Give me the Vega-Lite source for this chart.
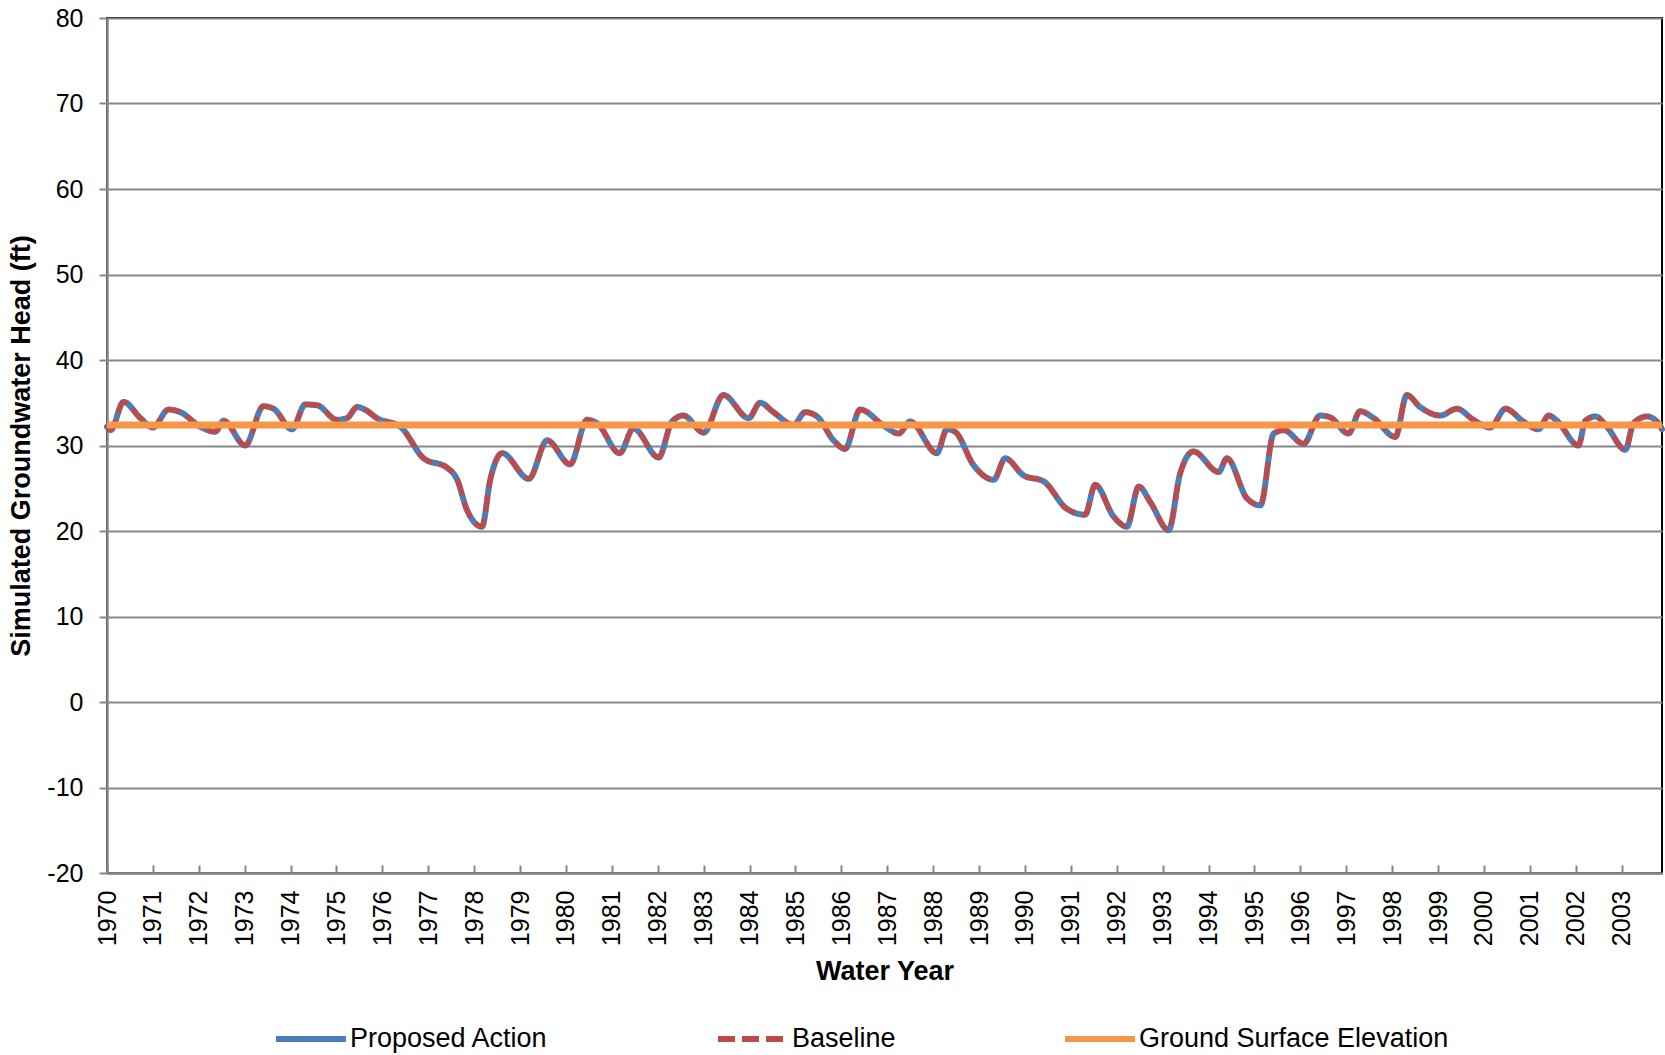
{
  "$schema": "https://vega.github.io/schema/vega-lite/v6.json",
  "autosize": {"type": "none"},
  "width": 1555,
  "height": 855,
  "padding": {"left": 107, "top": 18, "right": 3, "bottom": 182},
  "background": "white",
  "config": {
    "font": "Liberation Sans",
    "view": {"stroke": "black", "strokeWidth": 2},
    "axis": {
      "labelFont": "Liberation Sans",
      "labelFontSize": 25,
      "labelColor": "black",
      "titleFont": "Liberation Sans",
      "titleFontSize": 27,
      "titleFontWeight": "bold",
      "titleColor": "black",
      "domainColor": "#878787",
      "domainWidth": 2.5,
      "tickColor": "#878787",
      "tickWidth": 2,
      "gridColor": "#878787",
      "gridWidth": 2,
      "gridOpacity": 1
    },
    "legend": {
      "labelFont": "Liberation Sans",
      "labelFontSize": 27,
      "labelColor": "black",
      "labelLimit": 0
    }
  },
  "datasets": {
    "head": [
      {"t": 1970.00, "Proposed Action": 32.2, "Baseline": 32.2},
      {"t": 1970.08, "Proposed Action": 31.8, "Baseline": 31.8},
      {"t": 1970.36, "Proposed Action": 35.1, "Baseline": 35.1},
      {"t": 1970.73, "Proposed Action": 33.2, "Baseline": 33.2},
      {"t": 1971.00, "Proposed Action": 32.1, "Baseline": 32.1},
      {"t": 1971.34, "Proposed Action": 34.2, "Baseline": 34.2},
      {"t": 1971.60, "Proposed Action": 33.9, "Baseline": 33.9},
      {"t": 1972.03, "Proposed Action": 32.2, "Baseline": 32.2},
      {"t": 1972.36, "Proposed Action": 31.6, "Baseline": 31.6},
      {"t": 1972.54, "Proposed Action": 32.9, "Baseline": 32.9},
      {"t": 1973.01, "Proposed Action": 30.0, "Baseline": 30.0},
      {"t": 1973.41, "Proposed Action": 34.6, "Baseline": 34.6},
      {"t": 1973.63, "Proposed Action": 34.3, "Baseline": 34.3},
      {"t": 1974.03, "Proposed Action": 31.9, "Baseline": 31.9},
      {"t": 1974.32, "Proposed Action": 34.8, "Baseline": 34.8},
      {"t": 1974.58, "Proposed Action": 34.7, "Baseline": 34.7},
      {"t": 1975.01, "Proposed Action": 33.0, "Baseline": 33.0},
      {"t": 1975.23, "Proposed Action": 33.2, "Baseline": 33.2},
      {"t": 1975.45, "Proposed Action": 34.5, "Baseline": 34.5},
      {"t": 1975.62, "Proposed Action": 34.2, "Baseline": 34.2},
      {"t": 1975.88, "Proposed Action": 33.2, "Baseline": 33.2},
      {"t": 1976.39, "Proposed Action": 32.2, "Baseline": 32.2},
      {"t": 1976.90, "Proposed Action": 28.5, "Baseline": 28.5},
      {"t": 1977.41, "Proposed Action": 27.4, "Baseline": 27.4},
      {"t": 1977.63, "Proposed Action": 26.0, "Baseline": 26.0},
      {"t": 1977.84, "Proposed Action": 22.5, "Baseline": 22.5},
      {"t": 1978.17, "Proposed Action": 20.5, "Baseline": 20.5},
      {"t": 1978.35, "Proposed Action": 26.0, "Baseline": 26.0},
      {"t": 1978.61, "Proposed Action": 29.1, "Baseline": 29.1},
      {"t": 1979.19, "Proposed Action": 26.1, "Baseline": 26.1},
      {"t": 1979.59, "Proposed Action": 30.6, "Baseline": 30.6},
      {"t": 1980.09, "Proposed Action": 27.8, "Baseline": 27.8},
      {"t": 1980.46, "Proposed Action": 33.0, "Baseline": 33.0},
      {"t": 1980.68, "Proposed Action": 32.6, "Baseline": 32.6},
      {"t": 1981.17, "Proposed Action": 29.1, "Baseline": 29.1},
      {"t": 1981.47, "Proposed Action": 32.0, "Baseline": 32.0},
      {"t": 1982.02, "Proposed Action": 28.6, "Baseline": 28.6},
      {"t": 1982.31, "Proposed Action": 32.8, "Baseline": 32.8},
      {"t": 1982.56, "Proposed Action": 33.5, "Baseline": 33.5},
      {"t": 1983.00, "Proposed Action": 31.5, "Baseline": 31.5},
      {"t": 1983.43, "Proposed Action": 35.9, "Baseline": 35.9},
      {"t": 1983.98, "Proposed Action": 33.2, "Baseline": 33.2},
      {"t": 1984.23, "Proposed Action": 35.0, "Baseline": 35.0},
      {"t": 1984.52, "Proposed Action": 33.9, "Baseline": 33.9},
      {"t": 1984.96, "Proposed Action": 32.4, "Baseline": 32.4},
      {"t": 1985.21, "Proposed Action": 33.9, "Baseline": 33.9},
      {"t": 1985.47, "Proposed Action": 33.4, "Baseline": 33.4},
      {"t": 1985.83, "Proposed Action": 30.6, "Baseline": 30.6},
      {"t": 1986.08, "Proposed Action": 29.6, "Baseline": 29.6},
      {"t": 1986.41, "Proposed Action": 34.2, "Baseline": 34.2},
      {"t": 1986.95, "Proposed Action": 32.2, "Baseline": 32.2},
      {"t": 1987.25, "Proposed Action": 31.4, "Baseline": 31.4},
      {"t": 1987.50, "Proposed Action": 32.8, "Baseline": 32.8},
      {"t": 1988.08, "Proposed Action": 29.1, "Baseline": 29.1},
      {"t": 1988.30, "Proposed Action": 31.9, "Baseline": 31.9},
      {"t": 1988.48, "Proposed Action": 31.6, "Baseline": 31.6},
      {"t": 1988.88, "Proposed Action": 27.7, "Baseline": 27.7},
      {"t": 1989.32, "Proposed Action": 26.0, "Baseline": 26.0},
      {"t": 1989.57, "Proposed Action": 28.5, "Baseline": 28.5},
      {"t": 1989.97, "Proposed Action": 26.5, "Baseline": 26.5},
      {"t": 1990.41, "Proposed Action": 25.8, "Baseline": 25.8},
      {"t": 1990.91, "Proposed Action": 22.6, "Baseline": 22.6},
      {"t": 1991.31, "Proposed Action": 21.9, "Baseline": 21.9},
      {"t": 1991.53, "Proposed Action": 25.4, "Baseline": 25.4},
      {"t": 1991.93, "Proposed Action": 21.7, "Baseline": 21.7},
      {"t": 1992.22, "Proposed Action": 20.5, "Baseline": 20.5},
      {"t": 1992.48, "Proposed Action": 25.2, "Baseline": 25.2},
      {"t": 1992.73, "Proposed Action": 23.4, "Baseline": 23.4},
      {"t": 1993.13, "Proposed Action": 20.1, "Baseline": 20.1},
      {"t": 1993.38, "Proposed Action": 26.7, "Baseline": 26.7},
      {"t": 1993.67, "Proposed Action": 29.3, "Baseline": 29.3},
      {"t": 1994.22, "Proposed Action": 26.9, "Baseline": 26.9},
      {"t": 1994.40, "Proposed Action": 28.5, "Baseline": 28.5},
      {"t": 1994.84, "Proposed Action": 23.8, "Baseline": 23.8},
      {"t": 1995.13, "Proposed Action": 23.0, "Baseline": 23.0},
      {"t": 1995.42, "Proposed Action": 31.4, "Baseline": 31.4},
      {"t": 1995.64, "Proposed Action": 31.8, "Baseline": 31.8},
      {"t": 1996.07, "Proposed Action": 30.2, "Baseline": 30.2},
      {"t": 1996.43, "Proposed Action": 33.5, "Baseline": 33.5},
      {"t": 1996.65, "Proposed Action": 33.3, "Baseline": 33.3},
      {"t": 1997.05, "Proposed Action": 31.4, "Baseline": 31.4},
      {"t": 1997.30, "Proposed Action": 34.0, "Baseline": 34.0},
      {"t": 1997.60, "Proposed Action": 33.2, "Baseline": 33.2},
      {"t": 1998.07, "Proposed Action": 31.0, "Baseline": 31.0},
      {"t": 1998.32, "Proposed Action": 35.9, "Baseline": 35.9},
      {"t": 1998.61, "Proposed Action": 34.5, "Baseline": 34.5},
      {"t": 1999.05, "Proposed Action": 33.5, "Baseline": 33.5},
      {"t": 1999.41, "Proposed Action": 34.3, "Baseline": 34.3},
      {"t": 1999.77, "Proposed Action": 33.0, "Baseline": 33.0},
      {"t": 2000.14, "Proposed Action": 32.1, "Baseline": 32.1},
      {"t": 2000.47, "Proposed Action": 34.3, "Baseline": 34.3},
      {"t": 2000.86, "Proposed Action": 32.8, "Baseline": 32.8},
      {"t": 2001.19, "Proposed Action": 31.9, "Baseline": 31.9},
      {"t": 2001.41, "Proposed Action": 33.5, "Baseline": 33.5},
      {"t": 2001.59, "Proposed Action": 32.9, "Baseline": 32.9},
      {"t": 2002.06, "Proposed Action": 30.0, "Baseline": 30.0},
      {"t": 2002.21, "Proposed Action": 32.9, "Baseline": 32.9},
      {"t": 2002.43, "Proposed Action": 33.4, "Baseline": 33.4},
      {"t": 2002.68, "Proposed Action": 32.2, "Baseline": 32.2},
      {"t": 2003.08, "Proposed Action": 29.5, "Baseline": 29.5},
      {"t": 2003.26, "Proposed Action": 32.6, "Baseline": 32.6},
      {"t": 2003.55, "Proposed Action": 33.4, "Baseline": 33.4},
      {"t": 2003.77, "Proposed Action": 32.8, "Baseline": 32.8},
      {"t": 2003.88, "Proposed Action": 31.9, "Baseline": 31.9}
    ],
    "ground": [
      {"t": 1970.00, "Ground Surface Elevation": 32.4},
      {"t": 2003.88, "Ground Surface Elevation": 32.4}
    ]
  },
  "encoding": {
    "x": {
      "field": "t",
      "type": "quantitative",
      "scale": {"domain": [1970, 2003.88], "nice": false, "zero": false},
      "axis": {
        "title": "Water Year",
        "values": [1970,1971,1972,1973,1974,1975,1976,1977,1978,1979,1980,1981,1982,1983,1984,1985,1986,1987,1988,1989,1990,1991,1992,1993,1994,1995,1996,1997,1998,1999,2000,2001,2002,2003],
        "format": "d",
        "labelAngle": -90,
        "labelAlign": "right",
        "labelBaseline": "middle",
        "tickSize": -8,
        "labelPadding": 25,
        "grid": false,
        "labelFlush": false,
        "labelOverlap": false,
        "titleY": 106,
        "titleBaseline": "alphabetic"
      }
    },
    "y": {
      "field": "value",
      "type": "quantitative",
      "scale": {"domain": [-20, 80], "nice": false},
      "axis": {
        "title": "Simulated Groundwater Head  (ft)",
        "values": [-20,-10,0,10,20,30,40,50,60,70,80],
        "labelExpr": "datum.value + ''",
        "tickSize": 8,
        "labelPadding": 16,
        "grid": true,
        "labelFlush": false,
        "titleX": -72,
        "titleBaseline": "bottom"
      }
    },
    "color": {
      "field": "series",
      "type": "nominal",
      "scale": {
        "domain": ["Proposed Action", "Baseline", "Ground Surface Elevation"],
        "range": ["#4A7EBB", "#BE4B48", "#F79646"]
      },
      "legend": {
        "title": null,
        "orient": "none",
        "direction": "horizontal",
        "legendX": 166,
        "legendY": 983,
        "padding": 0,
        "symbolType": "stroke",
        "symbolSize": 4900,
        "symbolStrokeWidth": 6,
        "labelOffset": 1,
        "labelLimit": 0,
        "columnPadding": 157
      }
    },
    "strokeDash": {
      "field": "series",
      "type": "nominal",
      "scale": {
        "domain": ["Proposed Action", "Baseline", "Ground Surface Elevation"],
        "range": [[1, 0], [17, 7], [1, 0]]
      },
      "legend": {
        "title": null,
        "orient": "none",
        "direction": "horizontal",
        "legendX": 166,
        "legendY": 983,
        "padding": 0,
        "symbolType": "stroke",
        "symbolSize": 4900,
        "symbolStrokeWidth": 6,
        "labelOffset": 1,
        "labelLimit": 0,
        "columnPadding": 157
      }
    }
  },
  "layer": [
    {
      "data": {"name": "head"},
      "transform": [{"fold": ["Proposed Action"], "as": ["series", "value"]}],
      "mark": {"type": "line", "interpolate": "monotone", "strokeWidth": 6, "strokeCap": "round", "strokeJoin": "round"}
    },
    {
      "data": {"name": "head"},
      "transform": [{"fold": ["Baseline"], "as": ["series", "value"]}],
      "mark": {"type": "line", "interpolate": "monotone", "strokeWidth": 5, "strokeJoin": "round"}
    },
    {
      "data": {"name": "ground"},
      "transform": [{"fold": ["Ground Surface Elevation"], "as": ["series", "value"]}],
      "mark": {"type": "line", "strokeWidth": 7}
    }
  ]
}
